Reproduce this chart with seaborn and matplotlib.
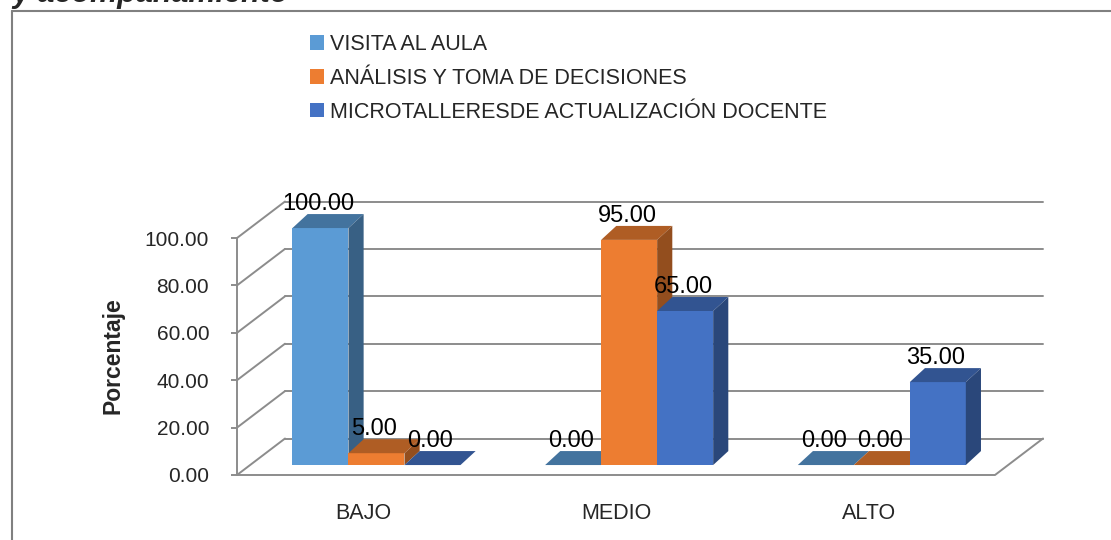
import matplotlib
matplotlib.use('Agg')
import matplotlib.pyplot as plt
import matplotlib.colors as mcolors
from matplotlib.patches import Polygon, Patch
from matplotlib.lines import Line2D
import seaborn as sns
import pandas as pd
import numpy as np

# Data
categories = ['BAJO', 'MEDIO', 'ALTO']
series = ['VISITA AL AULA', 'ANÁLISIS Y TOMA DE DECISIONES',
          'MICROTALLERESDE ACTUALIZACIÓN DOCENTE']
visita = [100.0, 0.0, 0.0]
analisis = [5.0, 95.0, 0.0]
microtalleres = [0.0, 65.0, 35.0]
y_ticks = [0, 20, 40, 60, 80, 100]
colors = ['#5B9BD5', '#ED7D31', '#4472C4']

sns.set_style('white')
plt.rcParams['font.family'] = ['Liberation Sans', 'DejaVu Sans']

df = pd.DataFrame({
    'nivel': categories * 3,
    'serie': np.repeat(series, len(categories)),
    'valor': visita + analisis + microtalleres,
})

W, H = 1111, 540
fig = plt.figure(figsize=(W / 100, H / 100), dpi=100)
# axes = front plane of the pseudo-3D box
ax = fig.add_axes([237 / W, 1 - 475 / H, 758 / W, 237 / H])

sns.barplot(data=df, x='nivel', y='valor', hue='serie', hue_order=series,
            palette=colors, saturation=1, width=0.665, legend=False,
            errorbar=None, ax=ax, linewidth=0)

ax.set_xlim(-0.5, 2.5)
ax.set_ylim(0, 100)

# depth of the box (data units) and bar placement inside it
DX, DY = 0.19, 15.4
SHX, SHY = 0.052, 4.2     # front face of bars sits a bit back
SDX, SDY = 0.06, 5.9      # depth of the bars themselves

grid_c = '#8C8C8C'
for v in y_ticks:
    ax.plot([-0.5, -0.5 + DX], [v, v + DY], color=grid_c, lw=1.4, clip_on=False, zorder=1)
    ax.plot([-0.5 + DX, 2.5 + DX], [v + DY, v + DY], color=grid_c, lw=1.4, clip_on=False, zorder=1)
ax.plot([-0.5, 2.5, 2.5 + DX], [0, 0, DY], color=grid_c, lw=1.4, clip_on=False, zorder=1)


def shade(c, f):
    r, g, b = mcolors.to_rgb(c)
    return (r * f, g * f, b * f)


bars = sorted(ax.patches, key=lambda p: p.get_x())
for i, p in enumerate(bars):
    x = p.get_x() + SHX
    w = p.get_width()
    h = p.get_height()
    p.set_x(x)
    p.set_y(SHY)
    p.set_clip_on(False)
    z = 3 + i * 0.01
    p.set_zorder(z)
    fc = p.get_facecolor()
    y0, y1 = SHY, SHY + h
    top = Polygon([(x, y1), (x + w, y1), (x + w + SDX, y1 + SDY), (x + SDX, y1 + SDY)],
                  closed=True, facecolor=shade(fc, 0.74), edgecolor='none',
                  clip_on=False, zorder=z)
    ax.add_patch(top)
    if h > 0:
        side = Polygon([(x + w, y0), (x + w, y1), (x + w + SDX, y1 + SDY), (x + w + SDX, y0 + SDY)],
                       closed=True, facecolor=shade(fc, 0.62), edgecolor='none',
                       clip_on=False, zorder=z)
        ax.add_patch(side)
    ax.text(x + w / 2 - 0.008, y1 + SDY - 0.5, f'{h:.2f}', ha='center', va='bottom',
            fontsize=17, color='black', zorder=10, clip_on=False)

for s in ['top', 'right', 'bottom']:
    ax.spines[s].set_visible(False)
ax.spines['left'].set_color(grid_c)
ax.spines['left'].set_linewidth(1.4)
ax.spines['left'].set_bounds(0, 100)

ax.set_yticks(y_ticks)
ax.set_yticklabels([f'{v:.2f}' for v in y_ticks], fontsize=15)
ax.tick_params(axis='y', length=4, width=1.4, color=grid_c, pad=16, left=True)
ax.set_xticks(range(len(categories)))
ax.set_xticklabels(categories, fontsize=15.5)
ax.tick_params(axis='x', length=0, pad=20)
ax.set_xlabel('')
ax.set_ylabel('')

fig.text(113 / W, 1 - 356 / H, 'Porcentaje', rotation=90, ha='center', va='center',
         fontsize=16.5, fontweight='bold')

handles = [Patch(facecolor=c, edgecolor='none') for c in colors]
fig.legend(handles, series, loc='upper left', bbox_to_anchor=(310 / W, 1 - 34 / H),
           frameon=False, fontsize=15.5, handlelength=0.65, handleheight=0.65,
           handletextpad=0.3, labelspacing=0.6, borderpad=0, borderaxespad=0)

# chart border (partially outside the crop) and cut-off title line
fig.add_artist(Line2D([12 / W, 12 / W], [-0.1, 1 - 11 / H], color='#808080', lw=1.5,
                      transform=fig.transFigure))
fig.add_artist(Line2D([12 / W, 1.1], [1 - 11 / H, 1 - 11 / H], color='#808080', lw=1.5,
                      transform=fig.transFigure))
fig.text(12 / W, 1 - 2 / H, 'y acompañamiento', fontsize=22, fontweight='bold',
         fontstyle='italic', va='baseline', ha='left')

fig.savefig('out.png', dpi=100)
